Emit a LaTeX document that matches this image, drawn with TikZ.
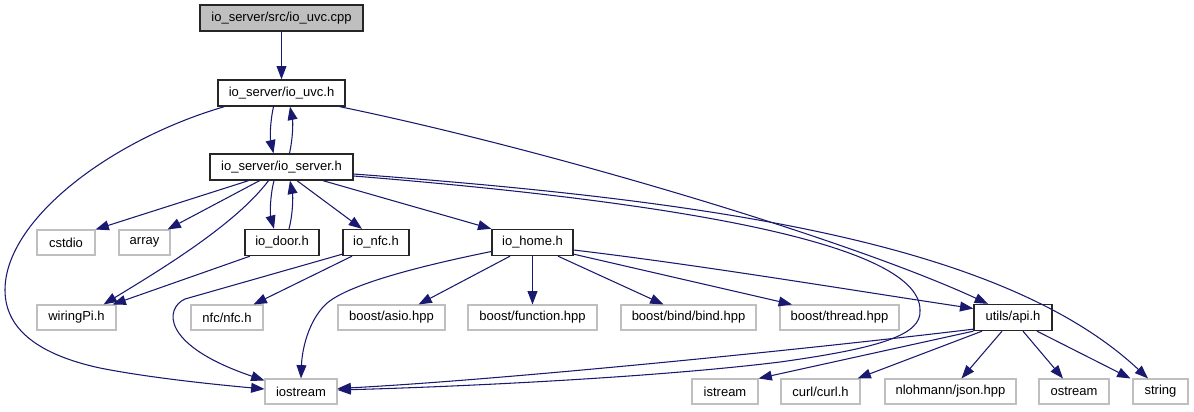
\documentclass[tikz,border=0pt]{standalone}
\usepackage{fontspec}
\setmainfont{Liberation Sans}
\usetikzlibrary{arrows.meta,calc}
\definecolor{edgeblue}{HTML}{191970}
\definecolor{extgray}{HTML}{BFBFBF}
\definecolor{rootgray}{HTML}{BFBFBF}
\newcommand{\nfs}{\fontsize{9.75}{11}\selectfont}
\tikzset{
  ext/.style={draw=extgray, fill=white, line width=0.8pt, minimum height=18.75pt, inner sep=0pt, font=\nfs},
  intn/.style={draw=black!85, fill=white, line width=1pt, minimum height=19.5pt, inner sep=0pt, font=\nfs},
  rootn/.style={intn, fill=rootgray},
  e/.style={draw=edgeblue, line width=0.8pt, -{Triangle[length=10pt,width=7.4pt]}}
}
\begin{document}
\begin{tikzpicture}[x=0.75pt,y=-0.75pt]
\useasboundingbox (0,0) rectangle (1194,411);
% nodes
\node[rootn, minimum width=122.25pt] (root) at (281.5,18) {io\_server/src/io\_uvc.cpp};
\node[intn, minimum width=95.25pt] (uvc) at (281.5,93) {io\_server/io\_uvc.h};
\node[intn, minimum width=107.25pt] (server) at (281.5,167) {io\_server/io\_server.h};
\node[ext, minimum width=43.5pt] (cstdio) at (66,242.5) {cstdio};
\node[ext, minimum width=38.25pt] (array) at (144.5,242.5) {array};
\node[intn, minimum width=55.5pt] (door) at (282,242.5) {io\_door.h};
\node[intn, minimum width=49.5pt] (nfc) at (376,242.5) {io\_nfc.h};
\node[intn, minimum width=60.75pt] (home) at (532.5,242.5) {io\_home.h};
\node[ext, minimum width=59.25pt] (wiringPi) at (76.5,317.5) {wiringPi.h};
\node[ext, minimum width=54pt] (nfcnfc) at (227,317.5) {nfc/nfc.h};
\node[ext, minimum width=80.25pt] (asio) at (391.5,317.5) {boost/asio.hpp};
\node[ext, minimum width=96.75pt] (function) at (532.5,317.5) {boost/function.hpp};
\node[ext, minimum width=101.25pt] (bind) at (688.5,317.5) {boost/bind/bind.hpp};
\node[ext, minimum width=89.25pt] (thread) at (839.5,317.5) {boost/thread.hpp};
\node[intn, minimum width=58.5pt] (api) at (1013,317.5) {utils/api.h};
\node[ext, minimum width=54pt] (iostream) at (301,391.5) {iostream};
\node[ext, minimum width=49.5pt] (istream) at (725,391.5) {istream};
\node[ext, minimum width=59.25pt] (curl) at (820.5,391.5) {curl/curl.h};
\node[ext, minimum width=98.25pt] (json) at (950.5,391.5) {nlohmann/json.hpp};
\node[ext, minimum width=52.5pt] (ostream) at (1074,391.5) {ostream};
\node[ext, minimum width=41.25pt] (string) at (1160.5,391.5) {string};
% edges
\draw[e] (root) -- (uvc);
\draw[e] ($(uvc.south)+(-8,0)$) .. controls (270,122) and (270,138) .. ($(server.north)+(-8,0)$);
\draw[e] ($(server.north)+(8,0)$) .. controls (293,138) and (293,122) .. ($(uvc.south)+(8.5,0)$);
\draw[e] ($(uvc.south west)+(7,0)$) .. controls (110,140) and (5,220) .. (5,290)
  .. controls (5,330) and (40,355) .. (100,368)
  .. controls (150,378) and (220,385) .. ($(iostream.west)+(0,-2.5)$);
\draw[e] ($(uvc.south east)+(-6,0)$) .. controls (550,150) and (850,240) .. ($(api.north)+(-25,0)$);
\draw[e] ($(server.south)+(-33,0)$) -- (cstdio.north east);
\draw[e] ($(server.south)+(-22,0)$) -- ($(array.north east)+(-3,0)$);
\draw[e] ($(server.south)+(-13,0)$) .. controls (235,225) and (160,270) .. ($(wiringPi.north east)+(-13,0)$);
\draw[e] ($(server.south)+(-7.5,0)$) .. controls (270,196) and (270,214) .. ($(door.north)+(-8,0)$);
\draw[e] ($(door.north)+(7,0)$) .. controls (293,214) and (293,196) .. ($(server.south)+(8.5,0)$);
\draw[e] ($(server.south)+(15.5,0)$) -- ($(nfc.north)+(-14,0)$);
\draw[e] ($(server.south)+(41.5,0)$) -- (home.north west);
\draw[e] ($(server.east)+(0,9)$) .. controls (650,200) and (920,240) .. (920,310)
  .. controls (922,335) and (880,348) .. (780,362)
  .. controls (650,378) and (450,387) .. ($(iostream.east)+(0,-1.5)$);
\draw[e] ($(server.east)+(0,7)$) .. controls (700,200) and (1000,240) .. ($(string.north)+(-12.5,0)$);
\draw[e] ($(door.south)+(-32,0)$) -- ($(wiringPi.north east)+(-4,0)$);
\draw[e] ($(nfc.south)+(-24,0)$) -- ($(nfcnfc.north east)+(-10,0)$);
\draw[e] ($(nfc.south west)+(0,-2)$) -- (185,299) .. controls (165,308) and (160,345) .. ($(iostream.north west)+(0,2)$);
\draw[e] ($(home.west)+(0,9)$) .. controls (420,266) and (345,285) .. (325,305) .. controls (308,322) and (302,350) .. (iostream.north);
\draw[e] ($(home.south)+(-22.5,0)$) -- ($(asio.north)+(27,0)$);
\draw[e] (home) -- (function);
\draw[e] ($(home.south)+(25.5,0)$) -- ($(bind.north)+(-25,0)$);
\draw[e] ($(home.south east)+(0,-2)$) -- ($(thread.north)+(-47.5,0)$);
\draw[e] ($(home.east)+(0,7.5)$) .. controls (700,265) and (850,290) .. ($(api.west)+(0,-9)$);
\draw[e] ($(api.south west)+(0,-2)$) .. controls (800,350) and (500,380) .. ($(iostream.east)+(0,-3)$);
\draw[e] (api.south west) -- (istream.north east);
\draw[e] ($(api.south)+(-31,0)$) -- ($(curl.north east)+(-3,0)$);
\draw[e] ($(api.south)+(-11,0)$) -- ($(json.north)+(11,0)$);
\draw[e] ($(api.south)+(10,0)$) -- ($(ostream.north)+(-11,0)$);
\draw[e] ($(api.south)+(24,0)$) -- ($(string.north west)+(-2,0)$);
\end{tikzpicture}
\end{document}
